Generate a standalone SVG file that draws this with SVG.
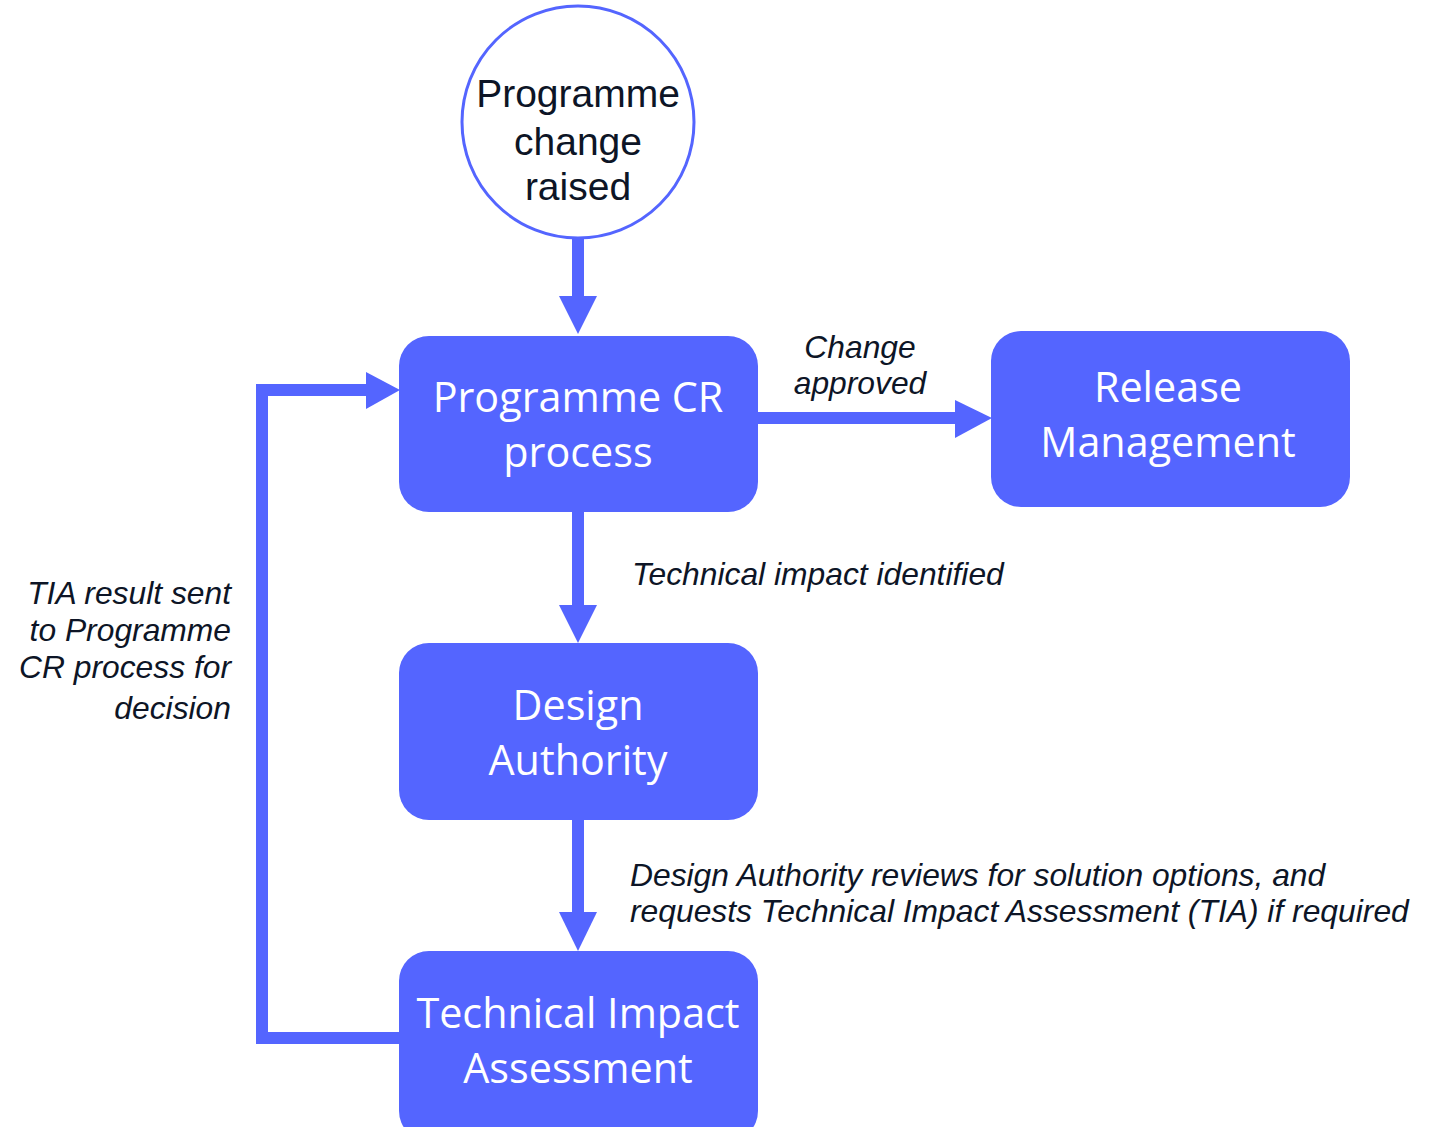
<svg xmlns="http://www.w3.org/2000/svg" width="1437" height="1127" viewBox="0 0 1437 1127">
<style>
.box{fill:#5465ff;}
.bt{font-family:"Open Sans","Noto Sans",sans-serif;font-size:41.3px;fill:#ffffff;text-anchor:middle;}
.ct{font-family:"Liberation Sans",Arial,sans-serif;font-size:39px;fill:#0d1526;text-anchor:middle;}
.lb{font-family:"Liberation Sans",Arial,sans-serif;font-size:31.8px;font-style:italic;fill:#0d1526;}
.ln{fill:none;stroke:#5465ff;stroke-width:12;}
.ah{fill:#5465ff;}
</style>
<rect width="1437" height="1127" fill="#ffffff"/>
<g id="connectors">
<line class="ln" x1="578" y1="236" x2="578" y2="298"/>
<polygon class="ah" points="559,296 597,296 578,334"/>
<line class="ln" x1="758" y1="418" x2="957" y2="418"/>
<polygon class="ah" points="955,400 955,438 992,418"/>
<line class="ln" x1="578" y1="512" x2="578" y2="607"/>
<polygon class="ah" points="559,605 597,605 578,643"/>
<line class="ln" x1="578" y1="820" x2="578" y2="914"/>
<polygon class="ah" points="559,912 597,912 578,951"/>
<polyline class="ln" points="399,1038 262,1038 262,390 368,390"/>
<polygon class="ah" points="366,372 366,409 400,390"/>
</g>
<g id="node-start">
<circle cx="578" cy="122" r="116" fill="#ffffff" stroke="#5465ff" stroke-width="3"/>
<text class="ct" x="578" y="107">Programme</text>
<text class="ct" x="578" y="155">change</text>
<text class="ct" x="578" y="200">raised</text>
</g>
<g id="node-cr">
<rect class="box" x="399" y="336" width="359" height="176" rx="30"/>
<text class="bt" x="578" y="412">Programme CR</text>
<text class="bt" x="578" y="467">process</text>
</g>
<g id="node-release">
<rect class="box" x="991" y="331" width="359" height="176" rx="30"/>
<text class="bt" x="1168" y="402">Release</text>
<text class="bt" x="1168" y="457">Management</text>
</g>
<g id="node-da">
<rect class="box" x="399" y="643" width="359" height="177" rx="30"/>
<text class="bt" x="578" y="720">Design</text>
<text class="bt" x="578" y="775">Authority</text>
</g>
<g id="node-tia">
<rect class="box" x="399" y="951" width="359" height="190" rx="30"/>
<text class="bt" x="578" y="1028">Technical Impact</text>
<text class="bt" x="578" y="1083">Assessment</text>
</g>
<g id="labels">
<text class="lb" x="860" y="358" text-anchor="middle">Change</text>
<text class="lb" x="860" y="394" text-anchor="middle">approved</text>
<text class="lb" x="632" y="585">Technical impact identified</text>
<text class="lb" x="630" y="886">Design Authority reviews for solution options, and</text>
<text class="lb" x="630" y="922">requests Technical Impact Assessment (TIA) if required</text>
<text class="lb" x="231" y="604" text-anchor="end">TIA result sent</text>
<text class="lb" x="231" y="641" text-anchor="end">to Programme</text>
<text class="lb" x="231" y="678" text-anchor="end">CR process for</text>
<text class="lb" x="231" y="719" text-anchor="end">decision</text>
</g>
</svg>
